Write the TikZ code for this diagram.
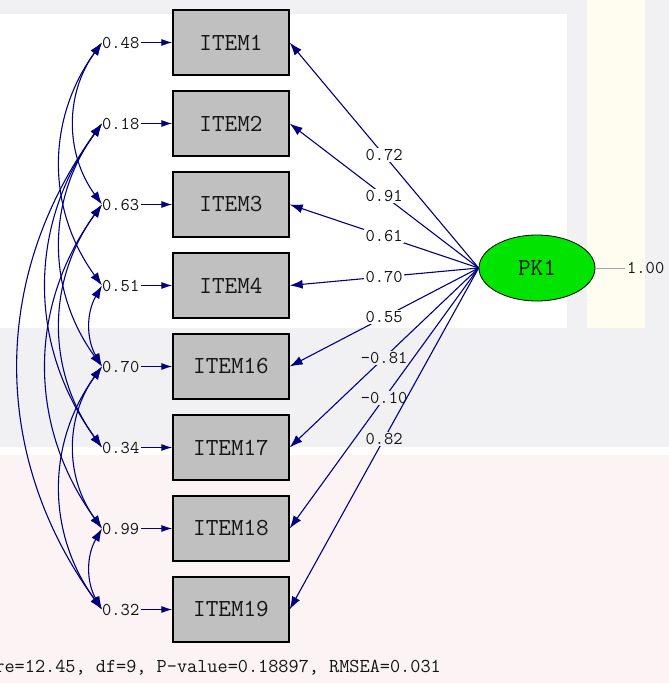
\documentclass[tikz,border=0pt]{standalone}
\usetikzlibrary{arrows.meta,shapes.geometric}
\definecolor{pathblue}{RGB}{0,0,128}
\definecolor{boxgray}{RGB}{192,192,192}
\definecolor{latgreen}{RGB}{0,228,0}
\definecolor{bandgray}{RGB}{241,241,244}
\definecolor{creamcol}{RGB}{255,252,240}
\definecolor{pinkbg}{RGB}{252,244,244}
\definecolor{inkcol}{RGB}{20,20,20}
\begin{document}
\begin{tikzpicture}[x=1pt,y=-1pt,
  obsbox/.style={draw=black, line width=1.3pt, fill=boxgray, minimum width=116pt,
    minimum height=65pt, inner sep=0pt, text=inkcol, font=\fontsize{24.5}{24.5}\selectfont\ttfamily},
  errlab/.style={anchor=west, inner sep=0pt, text=inkcol, font=\fontsize{18}{18}\selectfont\ttfamily},
  loadlab/.style={fill=white, inner sep=1.5pt, text=inkcol, font=\fontsize{18}{18}\selectfont\ttfamily},
  link/.style={draw=pathblue, line width=1.1pt, -{Latex[length=13pt,width=9pt]}},
  errarrow/.style={draw=pathblue, line width=1.1pt, shorten <=2pt, -{Latex[length=11pt,width=7pt]}},
  corr/.style={draw=pathblue, line width=1.1pt, {Latex[length=13pt,width=9pt]}-{Latex[length=13pt,width=9pt]}, bend right=36},
  corrshort/.style={corr, bend right=30},
]
\useasboundingbox (0,0) rectangle (669,683);

% background tints
\fill[white] (0,0) rectangle (669,683);
\fill[bandgray] (0,0) rectangle (669,14);
\fill[bandgray] (567,0) rectangle (669,447);
\fill[creamcol] (587,0) rectangle (645,447);
\fill[bandgray] (0,328) rectangle (645,447);
\fill[pinkbg] (0,455) rectangle (669,683);

% observed variables and their error variances
\foreach \n/\lab/\err [count=\i from 0] in
  {i1/ITEM1/0.48, i2/ITEM2/0.18, i3/ITEM3/0.63, i4/ITEM4/0.51,
   i16/ITEM16/0.70, i17/ITEM17/0.34, i18/ITEM18/0.99, i19/ITEM19/0.32} {
  \node[obsbox] (\n) at (231,{42.5+81*\i}) {\lab};
  \node[errlab] (e\n) at (102,{42.5+81*\i}) {\err};
  \draw[errarrow] (e\n.east) -- (\n.west);
}

% latent variable
\node[draw=black, line width=0.8pt, fill=latgreen, ellipse, minimum width=116pt,
  minimum height=66pt, inner sep=0pt, text=inkcol,
  font=\fontsize{24.5}{24.5}\selectfont\ttfamily] (pk) at (537,268) {PK1};
\node[anchor=west, inner sep=0pt, text=inkcol, font=\fontsize{18}{18}\selectfont\ttfamily]
  (pkvar) at (627,268) {1.00};
\draw[draw=black!35, line width=0.8pt] (pk.east) -- ([xshift=-2pt]pkvar.west);

% factor loadings
\draw[link] (pk.west) -- node[loadlab] {0.72} (i1.east);
\draw[link] (pk.west) -- node[loadlab] {0.91} (i2.east);
\draw[link] (pk.west) -- node[loadlab] {0.61} (i3.east);
\draw[link] (pk.west) -- node[loadlab] {0.70} (i4.east);
\draw[link] (pk.west) -- node[loadlab] {0.55} (i16.east);
\draw[link] (pk.west) -- node[loadlab, fill=bandgray] {-0.81} (i17.east);
\draw[link] (pk.west) -- node[loadlab, fill=bandgray] {-0.10} (i18.east);
\draw[link] (pk.west) -- node[loadlab, fill=bandgray] {0.82} (i19.east);

% correlated errors
\draw[corr] (ei1.west) to (ei3.west);
\draw[corr] (ei1.west) to (ei4.west);
\draw[corr] (ei2.west) to (ei19.west);
\draw[corr] (ei2.west) to (ei17.west);
\draw[corr] (ei2.west) to (ei16.west);
\draw[corr] (ei3.west) to (ei17.west);
\draw[corr] (ei3.west) to (ei18.west);
\draw[corrshort] (ei4.west) to (ei16.west);
\draw[corr] (ei16.west) to (ei19.west);
\draw[corr] (ei16.west) to (ei18.west);
\draw[corrshort] (ei18.west) to (ei19.west);

% fit statistics
\node[anchor=east, inner sep=0pt, text=inkcol, font=\fontsize{19.7}{19.7}\selectfont\ttfamily]
  (fitstat) at (441,669) {Chi-Square=12.45, df=9, P-value=0.18897, RMSEA=0.031};
\end{tikzpicture}
\end{document}
